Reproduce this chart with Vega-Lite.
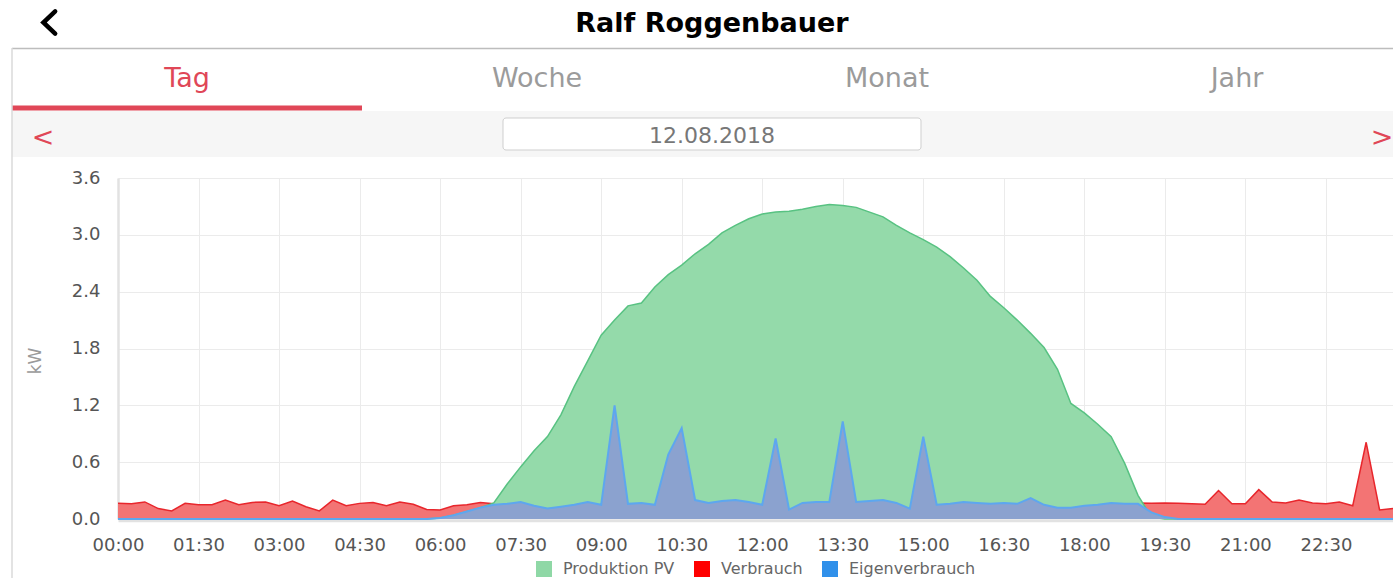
{
  "$schema": "https://vega.github.io/schema/vega-lite/v6.json",
  "width": 1381,
  "height": 530,
  "padding": {"left": 12, "top": 48, "right": 0, "bottom": 0},
  "autosize": {"type": "none"},
  "background": "#ffffff",
  "config": {"view": {"stroke": null}, "font": "DejaVu Sans"},
  "layer": [
    {
      "layer": [
        {
          "data": {"values": [{"row": "date"}]},
          "mark": {"type": "tick", "orient": "horizontal", "color": "#f6f6f6", "opacity": 1, "size": 1400, "thickness": 46, "xOffset": 9.5, "yOffset": -2},
          "encoding": {
            "y": {"field": "row", "type": "nominal", "scale": {"type": "point", "domain": ["title", "tabs", "date"], "range": [-24, 88], "padding": 0}, "axis": null}
          }
        },
        {
          "data": {"values": [{"row": "date"}]},
          "mark": {"type": "tick", "orient": "horizontal", "color": "#ffffff", "stroke": "#cfcfcf", "strokeWidth": 1, "opacity": 1, "size": 418, "thickness": 32, "xOffset": 9.5, "yOffset": -2, "cornerRadius": 3},
          "encoding": {
            "y": {"field": "row", "type": "nominal"}
          }
        },
        {
          "data": {"values": [{"tab": "Tag"}]},
          "mark": {"type": "tick", "orient": "horizontal", "color": "#e04757", "opacity": 1, "size": 350, "thickness": 5, "yOffset": 28},
          "encoding": {
            "x": {"field": "tab", "type": "nominal", "scale": {"type": "band", "domain": ["Tag", "Woche", "Monat", "Jahr"], "range": [0, 1400], "paddingInner": 0, "paddingOuter": 0}, "axis": null},
            "y": {"datum": "tabs", "type": "nominal"}
          }
        },
        {
          "data": {"values": [{"row": "title"}]},
          "mark": {"type": "rule", "color": "#bdbdbd", "strokeWidth": 1.5, "yOffset": 24.5},
          "encoding": {
            "y": {"field": "row", "type": "nominal"}
          }
        },
        {
          "data": {"values": [{"tab": "Tag"}]},
          "mark": {"type": "rule", "color": "#dadada", "strokeWidth": 1.5},
          "encoding": {
            "x": {"field": "tab", "type": "nominal", "bandPosition": 0}
          }
        },
        {
          "data": {"values": [{"tab": "Tag"}, {"tab": "Woche"}, {"tab": "Monat"}, {"tab": "Jahr"}]},
          "mark": {"type": "text", "fontSize": 27, "baseline": "middle", "align": "center", "dy": -1},
          "encoding": {
            "x": {"field": "tab", "type": "nominal"},
            "y": {"datum": "tabs", "type": "nominal"},
            "text": {"field": "tab"},
            "color": {"condition": {"test": "datum.tab === 'Tag'", "value": "#e04757"}, "value": "#9b9b9b"}
          }
        },
        {
          "data": {"values": [{"item": "title", "label": "Ralf Roggenbauer"}]},
          "mark": {"type": "text", "fontSize": 27, "fontWeight": "bold", "baseline": "middle", "align": "center", "color": "#000000"},
          "encoding": {
            "x": {"datum": "Monat", "bandPosition": 0, "type": "nominal"},
            "y": {"field": "item", "type": "nominal"},
            "text": {"field": "label"}
          }
        },
        {
          "data": {"values": [{"item": "title"}]},
          "mark": {"type": "point", "shape": "M0.55,-1L-0.5,0L0.55,1", "size": 500, "filled": false, "stroke": "#000000", "strokeWidth": 4.5, "strokeCap": "round", "strokeJoin": "miter", "opacity": 1, "xOffset": 37, "yOffset": -1.5},
          "encoding": {
            "x": {"datum": "Tag", "bandPosition": 0, "type": "nominal"},
            "y": {"field": "item", "type": "nominal"}
          }
        },
        {
          "data": {"values": [{"item": "date", "label": "12.08.2018"}]},
          "mark": {"type": "text", "fontSize": 22, "baseline": "middle", "align": "center", "color": "#777777"},
          "encoding": {
            "x": {"datum": "Monat", "bandPosition": 0, "type": "nominal"},
            "y": {"field": "item", "type": "nominal"},
            "text": {"field": "label"}
          }
        },
        {
          "data": {"values": [{"item": "date", "label": "<"}]},
          "mark": {"type": "text", "fontSize": 27, "baseline": "middle", "align": "center", "color": "#e04757", "dx": 31, "dy": 2},
          "encoding": {
            "x": {"datum": "Tag", "bandPosition": 0, "type": "nominal"},
            "y": {"field": "item", "type": "nominal"},
            "text": {"field": "label"}
          }
        },
        {
          "data": {"values": [{"item": "date", "label": ">"}]},
          "mark": {"type": "text", "fontSize": 27, "baseline": "middle", "align": "center", "color": "#e04757", "dx": -30, "dy": 2},
          "encoding": {
            "x": {"datum": "Jahr", "bandPosition": 1, "type": "nominal"},
            "y": {"field": "item", "type": "nominal"},
            "text": {"field": "label"}
          }
        }
      ]
    },
    {
      "data": {"values": [
        {"h": 0, "pv": 0, "verbrauch": 0.165, "eigen": 0},
        {"h": 0.25, "pv": 0, "verbrauch": 0.16, "eigen": 0},
        {"h": 0.5, "pv": 0, "verbrauch": 0.18, "eigen": 0},
        {"h": 0.75, "pv": 0, "verbrauch": 0.11, "eigen": 0},
        {"h": 1, "pv": 0, "verbrauch": 0.085, "eigen": 0},
        {"h": 1.25, "pv": 0, "verbrauch": 0.165, "eigen": 0},
        {"h": 1.5, "pv": 0, "verbrauch": 0.15, "eigen": 0},
        {"h": 1.75, "pv": 0, "verbrauch": 0.15, "eigen": 0},
        {"h": 2, "pv": 0, "verbrauch": 0.2, "eigen": 0},
        {"h": 2.25, "pv": 0, "verbrauch": 0.15, "eigen": 0},
        {"h": 2.5, "pv": 0, "verbrauch": 0.175, "eigen": 0},
        {"h": 2.75, "pv": 0, "verbrauch": 0.18, "eigen": 0},
        {"h": 3, "pv": 0, "verbrauch": 0.14, "eigen": 0},
        {"h": 3.25, "pv": 0, "verbrauch": 0.19, "eigen": 0},
        {"h": 3.5, "pv": 0, "verbrauch": 0.13, "eigen": 0},
        {"h": 3.75, "pv": 0, "verbrauch": 0.085, "eigen": 0},
        {"h": 4, "pv": 0, "verbrauch": 0.2, "eigen": 0},
        {"h": 4.25, "pv": 0, "verbrauch": 0.14, "eigen": 0},
        {"h": 4.5, "pv": 0, "verbrauch": 0.165, "eigen": 0},
        {"h": 4.75, "pv": 0, "verbrauch": 0.175, "eigen": 0},
        {"h": 5, "pv": 0, "verbrauch": 0.14, "eigen": 0},
        {"h": 5.25, "pv": 0, "verbrauch": 0.18, "eigen": 0},
        {"h": 5.5, "pv": 0, "verbrauch": 0.155, "eigen": 0},
        {"h": 5.75, "pv": 0, "verbrauch": 0.1, "eigen": 0},
        {"h": 6, "pv": 0.01, "verbrauch": 0.095, "eigen": 0.01},
        {"h": 6.25, "pv": 0.04, "verbrauch": 0.14, "eigen": 0.04},
        {"h": 6.5, "pv": 0.08, "verbrauch": 0.15, "eigen": 0.08},
        {"h": 6.75, "pv": 0.12, "verbrauch": 0.175, "eigen": 0.12},
        {"h": 7, "pv": 0.17, "verbrauch": 0.16, "eigen": 0.15},
        {"h": 7.25, "pv": 0.37, "verbrauch": 0.16, "eigen": 0.16},
        {"h": 7.5, "pv": 0.55, "verbrauch": 0.18, "eigen": 0.18},
        {"h": 7.75, "pv": 0.72, "verbrauch": 0.14, "eigen": 0.14},
        {"h": 8, "pv": 0.87, "verbrauch": 0.11, "eigen": 0.11},
        {"h": 8.25, "pv": 1.1, "verbrauch": 0.13, "eigen": 0.13},
        {"h": 8.5, "pv": 1.4, "verbrauch": 0.15, "eigen": 0.15},
        {"h": 8.75, "pv": 1.67, "verbrauch": 0.18, "eigen": 0.18},
        {"h": 9, "pv": 1.94, "verbrauch": 0.15, "eigen": 0.15},
        {"h": 9.25, "pv": 2.1, "verbrauch": 1.2, "eigen": 1.2},
        {"h": 9.5, "pv": 2.25, "verbrauch": 0.16, "eigen": 0.16},
        {"h": 9.75, "pv": 2.28, "verbrauch": 0.17, "eigen": 0.17},
        {"h": 10, "pv": 2.45, "verbrauch": 0.15, "eigen": 0.15},
        {"h": 10.25, "pv": 2.58, "verbrauch": 0.68, "eigen": 0.68},
        {"h": 10.5, "pv": 2.68, "verbrauch": 0.96, "eigen": 0.96},
        {"h": 10.75, "pv": 2.8, "verbrauch": 0.2, "eigen": 0.2},
        {"h": 11, "pv": 2.9, "verbrauch": 0.17, "eigen": 0.17},
        {"h": 11.25, "pv": 3.02, "verbrauch": 0.19, "eigen": 0.19},
        {"h": 11.5, "pv": 3.1, "verbrauch": 0.2, "eigen": 0.2},
        {"h": 11.75, "pv": 3.17, "verbrauch": 0.18, "eigen": 0.18},
        {"h": 12, "pv": 3.22, "verbrauch": 0.15, "eigen": 0.15},
        {"h": 12.25, "pv": 3.24, "verbrauch": 0.85, "eigen": 0.85},
        {"h": 12.5, "pv": 3.25, "verbrauch": 0.1, "eigen": 0.1},
        {"h": 12.75, "pv": 3.27, "verbrauch": 0.17, "eigen": 0.17},
        {"h": 13, "pv": 3.3, "verbrauch": 0.18, "eigen": 0.18},
        {"h": 13.25, "pv": 3.32, "verbrauch": 0.18, "eigen": 0.18},
        {"h": 13.5, "pv": 3.31, "verbrauch": 1.03, "eigen": 1.03},
        {"h": 13.75, "pv": 3.29, "verbrauch": 0.18, "eigen": 0.18},
        {"h": 14, "pv": 3.24, "verbrauch": 0.19, "eigen": 0.19},
        {"h": 14.25, "pv": 3.19, "verbrauch": 0.2, "eigen": 0.2},
        {"h": 14.5, "pv": 3.1, "verbrauch": 0.17, "eigen": 0.17},
        {"h": 14.75, "pv": 3.02, "verbrauch": 0.11, "eigen": 0.11},
        {"h": 15, "pv": 2.95, "verbrauch": 0.87, "eigen": 0.87},
        {"h": 15.25, "pv": 2.87, "verbrauch": 0.15, "eigen": 0.15},
        {"h": 15.5, "pv": 2.77, "verbrauch": 0.16, "eigen": 0.16},
        {"h": 15.75, "pv": 2.65, "verbrauch": 0.18, "eigen": 0.18},
        {"h": 16, "pv": 2.52, "verbrauch": 0.17, "eigen": 0.17},
        {"h": 16.25, "pv": 2.35, "verbrauch": 0.16, "eigen": 0.16},
        {"h": 16.5, "pv": 2.23, "verbrauch": 0.17, "eigen": 0.17},
        {"h": 16.75, "pv": 2.1, "verbrauch": 0.16, "eigen": 0.16},
        {"h": 17, "pv": 1.96, "verbrauch": 0.22, "eigen": 0.22},
        {"h": 17.25, "pv": 1.81, "verbrauch": 0.15, "eigen": 0.15},
        {"h": 17.5, "pv": 1.58, "verbrauch": 0.12, "eigen": 0.12},
        {"h": 17.75, "pv": 1.22, "verbrauch": 0.12, "eigen": 0.12},
        {"h": 18, "pv": 1.12, "verbrauch": 0.14, "eigen": 0.14},
        {"h": 18.25, "pv": 1.0, "verbrauch": 0.15, "eigen": 0.15},
        {"h": 18.5, "pv": 0.87, "verbrauch": 0.17, "eigen": 0.17},
        {"h": 18.75, "pv": 0.59, "verbrauch": 0.16, "eigen": 0.16},
        {"h": 19, "pv": 0.25, "verbrauch": 0.17, "eigen": 0.16},
        {"h": 19.25, "pv": 0.02, "verbrauch": 0.165, "eigen": 0.07},
        {"h": 19.5, "pv": 0, "verbrauch": 0.17, "eigen": 0.02},
        {"h": 19.75, "pv": 0, "verbrauch": 0.165, "eigen": 0},
        {"h": 20, "pv": 0, "verbrauch": 0.16, "eigen": 0},
        {"h": 20.25, "pv": 0, "verbrauch": 0.155, "eigen": 0},
        {"h": 20.5, "pv": 0, "verbrauch": 0.3, "eigen": 0},
        {"h": 20.75, "pv": 0, "verbrauch": 0.16, "eigen": 0},
        {"h": 21, "pv": 0, "verbrauch": 0.16, "eigen": 0},
        {"h": 21.25, "pv": 0, "verbrauch": 0.31, "eigen": 0},
        {"h": 21.5, "pv": 0, "verbrauch": 0.18, "eigen": 0},
        {"h": 21.75, "pv": 0, "verbrauch": 0.17, "eigen": 0},
        {"h": 22, "pv": 0, "verbrauch": 0.2, "eigen": 0},
        {"h": 22.25, "pv": 0, "verbrauch": 0.17, "eigen": 0},
        {"h": 22.5, "pv": 0, "verbrauch": 0.16, "eigen": 0},
        {"h": 22.75, "pv": 0, "verbrauch": 0.18, "eigen": 0},
        {"h": 23, "pv": 0, "verbrauch": 0.14, "eigen": 0},
        {"h": 23.25, "pv": 0, "verbrauch": 0.81, "eigen": 0},
        {"h": 23.5, "pv": 0, "verbrauch": 0.095, "eigen": 0},
        {"h": 23.75, "pv": 0, "verbrauch": 0.11, "eigen": 0}
      ]},
      "layer": [
        {
          "mark": {"type": "area", "color": "#f37474", "opacity": 1, "interpolate": "linear", "line": {"color": "#e8262c", "strokeWidth": 1.5}},
          "encoding": {
            "x": {"field": "h", "type": "quantitative",
              "scale": {"domain": [0, 23.75], "range": [106, 1381], "nice": false, "zero": false},
              "axis": {"orient": "top", "offset": -472.5, "values": [0, 1.5, 3, 4.5, 6, 7.5, 9, 10.5, 12, 13.5, 15, 16.5, 18, 19.5, 21, 22.5],
                "labelExpr": "(datum.value < 10 ? '0' : '') + floor(datum.value) + ':' + (datum.value % 1 > 0 ? '30' : '00')",
                "ticks": false, "labelPadding": -16, "labelBaseline": "top", "labelFlush": false, "labelOverlap": false, "labelFontSize": 18, "labelColor": "#555555",
                "domainColor": "#e2e2e2", "domainWidth": 2.5, "grid": true, "gridColor": "#ebebeb", "gridWidth": 1, "title": null}},
            "y": {"field": "verbrauch", "type": "quantitative",
              "scale": {"domain": [0, 3.6], "range": [471, 130], "nice": false},
              "axis": {"orient": "left", "offset": -106, "values": [0, 0.6, 1.2, 1.8, 2.4, 3, 3.6], "format": ".1f", "ticks": false,
                "labelPadding": 18, "labelFontSize": 18, "labelColor": "#555555", "domainColor": "#e2e2e2", "domainWidth": 2.5,
                "grid": true, "gridColor": "#ebebeb", "gridWidth": 1,
                "title": "kW", "titleColor": "#9a9a9a", "titleFontSize": 17, "titleFontWeight": "normal", "titleAngle": -90,
                "titleX": -83, "titleY": 312.5, "titleAlign": "center", "titleBaseline": "middle"}}
          }
        },
        {
          "mark": {"type": "area", "color": "#94daaa", "opacity": 1, "interpolate": "linear", "line": {"color": "#58c282", "strokeWidth": 1.5}},
          "encoding": {
            "x": {"field": "h", "type": "quantitative"},
            "y": {"field": "pv", "type": "quantitative"}
          }
        },
        {
          "mark": {"type": "area", "color": "#8ba2cf", "opacity": 1, "interpolate": "linear", "line": {"color": "#5da7ef", "strokeWidth": 2}},
          "encoding": {
            "x": {"field": "h", "type": "quantitative"},
            "y": {"field": "eigen", "type": "quantitative"}
          }
        },
        {
          "data": {"values": [{"series": "Produktion PV"}, {"series": "Verbrauch"}, {"series": "Eigenverbrauch"}]},
          "mark": {"type": "point", "shape": "square", "filled": true, "opacity": 0},
          "encoding": {
            "color": {"field": "series", "type": "nominal",
              "scale": {"domain": ["Produktion PV", "Verbrauch", "Eigenverbrauch"], "range": ["#8fd8a6", "#ff0000", "#3090ea"]},
              "legend": {"orient": "none", "legendX": 524, "legendY": 513, "direction": "horizontal", "title": null,
                "symbolType": "square", "symbolSize": 256, "symbolStrokeWidth": 0, "symbolOpacity": 1,
                "labelFontSize": 16, "labelColor": "#666666", "labelOffset": 11, "columnPadding": 19, "padding": 0}}
          }
        }
      ]
    }
  ],
  "resolve": {"scale": {"x": "independent", "y": "independent"}}
}
